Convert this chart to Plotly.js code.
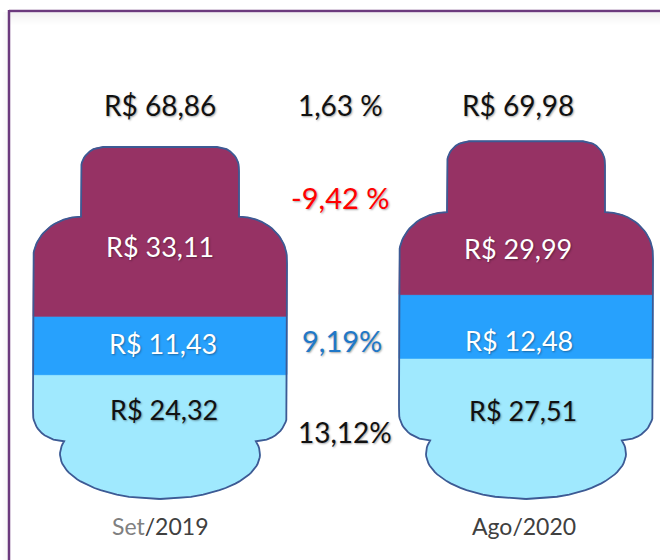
<!DOCTYPE html>
<html><head><meta charset="utf-8">
<script src="https://cdn.plot.ly/plotly-3.0.1.min.js"></script>
<style>html,body{margin:0;padding:0;background:#fff}#chart{width:660px;height:560px}</style>
</head><body><div id="chart"></div>
<script>
// ---- data ----
const periods = ['Set/2019', 'Ago/2020'];
const totalLabels = ['R$ 68,86', 'R$ 69,98'];
// stacked components, bottom -> top
const bottomValues = [24.32, 27.51];
const middleValues = [11.43, 12.48];
const topValues = [33.11, 29.99];
const bottomLabels = ['R$ 24,32', 'R$ 27,51'];
const middleLabels = ['R$ 11,43', 'R$ 12,48'];
const topLabels = ['R$ 33,11', 'R$ 29,99'];
const changeTotal = '1,63 %';
const changeTop = '-9,42 %';
const changeMiddle = '9,19%';
const changeBottom = '13,12%';

// ---- layout helpers ----
const W = 660, H = 560;
const basePx = 499;                  // pixel row of value 0
const k = 352 / 68.86;               // pixels per R$
const yMin = -(H - basePx) / k, yMax = basePx / k;
const centers = [160, 526];
const pY = py => 1 - py / H;         // pixel row -> paper

// gas cylinder silhouette: half-width (px) at fraction f of height
function halfW(f) {
  const el = (t) => Math.sqrt(Math.max(0, 1 - t * t));
  if (f <= 0.164) return 100 * el((f - 0.1275) / 0.1275);
  if (f <= 0.241) return 95.8 + 31.2 * el((0.241 - f) / 0.077);
  if (f <= 0.680) return 127;
  if (f <= 0.802) return 79 + 48 * el((f - 0.680) / 0.122);
  if (f <= 0.938) return 79;
  return 57 + 22 * el((f - 0.938) / 0.062);
}
const breaks = [0.164, 0.241, 0.680, 0.802, 0.938];
function fSamples(f0, f1) {
  const s = [];
  const n = 160;
  for (let i = 0; i <= n; i++) s.push(f0 + (f1 - f0) * i / n);
  breaks.forEach(b => { if (b > f0 && b < f1) { s.push(b - 1e-6); s.push(b); } });
  return s.sort((a, b) => a - b);
}
function band(cx, total, y0, y1) {
  const fs = fSamples(y0 / total, y1 / total);
  const xs = [], ys = [];
  fs.forEach(f => { xs.push(cx - halfW(f)); ys.push(f * total); });
  fs.slice().reverse().forEach(f => { xs.push(cx + halfW(f)); ys.push(f * total); });
  xs.push(xs[0]); ys.push(ys[0]);
  return { xs, ys };
}

const colBottom = '#a0e9fe', colMiddle = '#27a1fd', colTop = '#963264', colEdge = '#3d5a94';
const traces = [];
periods.forEach((p, i) => {
  const cx = centers[i];
  const b = bottomValues[i], m = middleValues[i], t = topValues[i];
  const total = b + m + t;
  const segs = [[0, b, colBottom], [b, b + m, colMiddle], [b + m, total, colTop]];
  segs.forEach(([y0, y1, c]) => {
    const g = band(cx, total, y0, y1);
    traces.push({ type: 'scatter', mode: 'lines', x: g.xs, y: g.ys, fill: 'toself',
      fillcolor: c, line: { color: c, width: 0.8 }, hoverinfo: 'skip', showlegend: false });
  });
  const o = band(cx, total, 0, total);
  traces.push({ type: 'scatter', mode: 'lines', x: o.xs, y: o.ys,
    line: { color: colEdge, width: 1.8 }, hoverinfo: 'skip', showlegend: false });
});

const font = 'Lato, "Open Sans", sans-serif';
const sh = '1px 1px 2px rgba(0,0,0,0.35)';
function ann(text, x, py, size, color) {
  return { text, x, y: pY(py), xref: 'x', yref: 'paper', showarrow: false,
    xanchor: 'center', yanchor: 'middle',
    font: { family: font, size, color, shadow: sh } };
}
const annotations = [
  ann(totalLabels[0], 160, 105, 28, '#111'),
  ann(changeTotal, 340, 105, 28, '#111'),
  ann(totalLabels[1], 518, 105, 28, '#111'),
  ann(changeTop, 340, 197, 29, '#ff0000'),
  ann(topLabels[0], 160, 246, 27, '#ffffff'),
  ann(topLabels[1], 518, 248, 27, '#ffffff'),
  ann(middleLabels[0], 163, 343, 27, '#ffffff'),
  ann(changeMiddle, 342, 341, 29, '#1f78c8'),
  ann(middleLabels[1], 519, 341, 27, '#ffffff'),
  ann(bottomLabels[0], 164, 409, 27, '#111'),
  ann(changeBottom, 345, 432, 28, '#111'),
  ann(bottomLabels[1], 523, 410, 27, '#111'),
  { text: '<span style="color:#808080">' + periods[0].split('/')[0] + '</span>/' + periods[0].split('/')[1],
    x: 160, y: pY(526), xref: 'x', yref: 'paper', showarrow: false, xanchor: 'center', yanchor: 'middle',
    font: { family: font, size: 23, color: '#404040' } },
  { text: periods[1], x: 524, y: pY(526), xref: 'x', yref: 'paper', showarrow: false,
    xanchor: 'center', yanchor: 'middle',
    font: { family: font, size: 23, color: '#404040' } }
];

const shapes = [];
// top inner shadow of frame
for (let i = 0; i < 12; i++) {
  shapes.push({ type: 'rect', xref: 'x', yref: 'paper', layer: 'below',
    x0: 10, x1: 660, y0: pY(13 + i + 1), y1: pY(13 + i),
    fillcolor: 'rgba(0,0,0,' + (0.05 * (1 - i / 12)).toFixed(3) + ')', line: { width: 0 } });
}
// left outer shadow
for (let i = 0; i < 6; i++) {
  shapes.push({ type: 'rect', xref: 'x', yref: 'paper', layer: 'below',
    x0: 8 - i - 1, x1: 8 - i, y0: 0, y1: pY(12),
    fillcolor: 'rgba(0,0,0,' + (0.03 * (1 - i / 6)).toFixed(3) + ')', line: { width: 0 } });
}
// frame lines
shapes.push({ type: 'line', xref: 'x', yref: 'paper', x0: 9, x1: 660, y0: pY(11), y1: pY(11),
  line: { color: '#6b3a7d', width: 2.5 } });
shapes.push({ type: 'line', xref: 'x', yref: 'paper', x0: 9, x1: 9, y0: pY(10), y1: 0,
  line: { color: '#6b3a7d', width: 2.5 } });

const layout = {
  width: W, height: H, margin: { l: 0, r: 0, t: 0, b: 0 },
  paper_bgcolor: '#ffffff', plot_bgcolor: 'rgba(0,0,0,0)',
  xaxis: { range: [0, W], visible: false, fixedrange: true },
  yaxis: { range: [yMin, yMax], visible: false, fixedrange: true },
  showlegend: false, annotations, shapes
};
Plotly.newPlot('chart', traces, layout, { displayModeBar: false, staticPlot: true });
</script>
</body></html>
